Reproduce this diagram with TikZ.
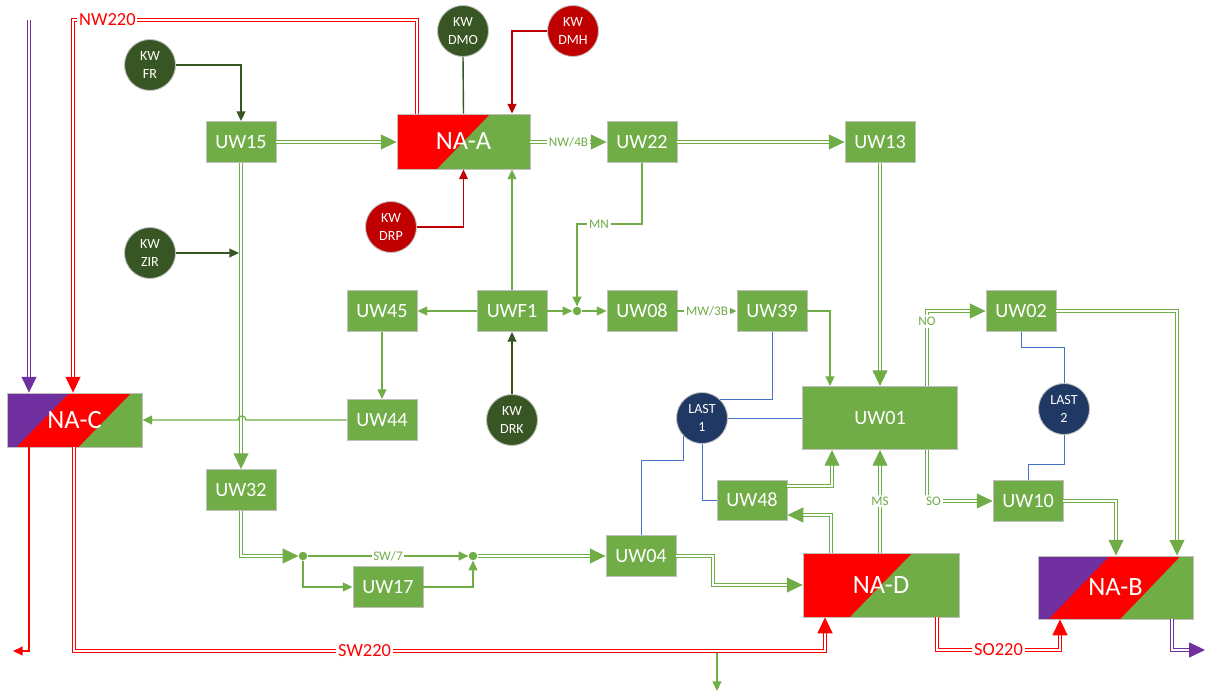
\documentclass[tikz,border=0pt]{standalone}
\usepackage{fontspec}
\setmainfont{Carlito}
\usetikzlibrary{arrows.meta,calc}

\definecolor{uwgreen}{HTML}{70AD47}
\definecolor{kwgreen}{HTML}{375623}
\definecolor{kwred}{HTML}{C00000}
\definecolor{lastblue}{HTML}{1F3864}
\definecolor{linkblue}{HTML}{4472C4}
\definecolor{hvpurple}{HTML}{7030A0}
\definecolor{hvred}{HTML}{FF0000}
\definecolor{boxline}{HTML}{BFBFBF}

\newcommand{\diagfill}[3]{%
  \fill[#1] (path picture bounding box.north west)
    -- ($(path picture bounding box.north west)!#2!(path picture bounding box.north east)$)
    -- ($(path picture bounding box.south west)!#3!(path picture bounding box.south east)$)
    -- (path picture bounding box.south west) -- cycle;}

\begin{document}
\begin{tikzpicture}[
    x=0.02cm, y=-0.02cm,
    uwbox/.style={draw=boxline, line width=0.5pt, fill=uwgreen, text=white, inner sep=0pt,
      minimum width=1.4cm, minimum height=0.82cm, font=\fontsize{11.5}{13}\selectfont},
    nabox/.style={uwbox, font=\fontsize{15}{17}\selectfont},
    twotone/.style={path picture={\diagfill{hvred}{0.7}{0.3}}},
    threetone/.style={path picture={\diagfill{hvred}{0.92}{0.53}\diagfill{hvpurple}{0.46}{0.07}}},
    kwdot/.style={circle, draw=boxline, line width=0.5pt, fill=#1, text=white, inner sep=0pt,
      minimum size=1.02cm, align=center, font=\fontsize{8}{9.8}\selectfont},
    knot/.style={circle, fill=uwgreen, inner sep=0pt, minimum size=0.17cm},
    feed/.style={draw=#1, line width=0.7pt, double=white, double distance=1.1pt,
      -{Triangle[length=9pt,width=8.5pt]}},
    feed/.default=uwgreen,
    flow/.style={draw=#1, line width=0.8pt, -{Triangle[length=5.5pt,width=5pt]}},
    flow/.default=uwgreen,
    tie/.style={draw=linkblue, line width=0.5pt},
    lbl/.style={fill=white, inner sep=1pt, text=#1, font=\fontsize{7.5}{8}\selectfont},
    lbl/.default=uwgreen,
    biglbl/.style={lbl=hvred, font=\fontsize{10.5}{11}\selectfont}
]
\useasboundingbox (0,0) rectangle (1206,692);

\node[kwdot=kwgreen] (kwfr) at (150,65) {KW\\FR};
\node[kwdot=kwgreen] (kwdmo) at (463,31) {KW\\DMO};
\node[kwdot=kwred] (kwdmh) at (573,31) {KW\\DMH};
\node[kwdot=kwred] (kwdrp) at (391,227) {KW\\DRP};
\node[kwdot=kwgreen] (kwzir) at (150,253) {KW\\ZIR};
\node[kwdot=kwgreen] (kwdrk) at (512,420) {KW\\DRK};
\node[kwdot=lastblue] (last1) at (702,418) {LAST\\1};
\node[kwdot=lastblue] (last2) at (1064,409) {LAST\\2};

\node[uwbox] (uw15) at (241,142) {UW15};
\node[uwbox] (uw22) at (642,142) {UW22};
\node[uwbox] (uw13) at (880,142) {UW13};
\node[uwbox] (uw45) at (382,311) {UW45};
\node[uwbox] (uwf1) at (512,311) {UWF1};
\node[knot] (j0) at (577,311) {};
\node[uwbox] (uw08) at (642,311) {UW08};
\node[uwbox] (uw39) at (772,311) {UW39};
\node[uwbox] (uw02) at (1021,311) {UW02};
\node[uwbox] (uw44) at (382,420) {UW44};
\node[uwbox, minimum width=3.1cm, minimum height=1.26cm] (uw01) at (880,418) {UW01};
\node[uwbox] (uw32) at (241,490) {UW32};
\node[uwbox, minimum height=0.8cm] (uw48) at (752,500) {UW48};
\node[uwbox] (uw10) at (1028,501) {UW10};
\node[knot] (j1) at (303,556) {};
\node[knot] (j2) at (473,556) {};
\node[uwbox] (uw04) at (641,556) {UW04};
\node[uwbox] (uw17) at (388,587) {UW17};

\node[nabox, twotone, minimum width=2.66cm, minimum height=1.1cm] (naa) at (463.5,141.5) {NA-A};
\node[nabox, threetone, minimum width=2.7cm, minimum height=1.08cm] (nac) at (74.5,420) {NA-C};
\node[nabox, twotone, minimum width=3.12cm, minimum height=1.28cm] (nad) at (881,585) {NA-D};
\node[nabox, threetone, minimum width=3.1cm, minimum height=1.26cm] (nab) at (1115.5,587.5) {NA-B};

\coordinate (hvin) at (29,20);
\coordinate (zirin) at (239,253);
\coordinate (rout) at (13,651);
\coordinate (swtap) at (717,651);
\coordinate (gout) at (717,691);
\coordinate (pout) at (1205,650);

\draw[flow=kwgreen] (kwfr.east) -| (uw15.north);
\draw[kwgreen, line width=0.8pt] (kwdmo.south) -- (naa.north);
\draw[flow=kwred] (kwdmh.west) -| (512,0 |- naa.north);
\draw[flow=kwred] (kwdrp.east) -| (naa.south);
\draw[flow=kwgreen] (kwzir.east) -- (zirin);
\draw[flow=kwgreen] (kwdrk.north) -- (uwf1.south);

\draw[feed] (uw15.east) -- (naa.west |- uw15.east);
\draw[feed] (naa.east |- uw22.west) -- node[lbl] {NW/4B} (uw22.west);
\draw[feed] (uw22.east) -- (uw13.west);
\draw[feed] (uw15.south) -- (uw32.north);
\draw[flow] (uw22.south) -- ++(0,61) -| node[lbl, pos=0.33] {MN} (j0.north);
\draw[flow] (uwf1.north) -- (naa.south -| uwf1.north);
\draw[flow] (uwf1.west) -- (uw45.east);
\draw[flow] (uwf1.east) -- (j0.west);
\draw[flow] (j0.east) -- (uw08.west);
\draw[flow] (uw08.east) -- node[lbl] {MW/3B} (uw39.west);
\draw[flow] (uw39.east) -| (830,0 |- uw01.north);
\draw[feed] (uw13.south) -- (uw01.north);
\draw[feed] (927,0 |- uw01.north) |- node[lbl, pos=0.43] {NO} (uw02.west);
\draw[feed] (927,0 |- uw01.south) |- node[lbl, pos=0.55] {SO} (uw10.west);
\draw[feed] (uw02.east) -| (1177,0 |- nab.north);
\draw[feed] (uw10.east) -| (1116,0 |- nab.north);
\draw[flow] (uw45.south) -- (uw44.north);
\draw[flow] (uw44.west) -- (246,420) arc[start angle=0, end angle=180, radius=0.08cm] -- (nac.east);
\draw[feed] (uw32.south) |- (j1.west);
\draw[flow] (j1.east) -- node[lbl] {SW/7} (j2.west);
\draw[flow] (j1.south) |- (uw17.west);
\draw[flow] (uw17.east) -| (j2.south);
\draw[feed] (j2.east) -- (uw04.west);
\draw[feed] (uw04.east) -- (713,0 |- uw04.east) |- (nad.west);
\draw[feed] (uw48.east |- 0,486) -| (832,0 |- uw01.south);
\draw[feed] (831,0 |- nad.north) |- (uw48.east |- 0,515);
\draw[feed] (880,0 |- nad.north) -- node[lbl] {MS} (880,0 |- uw01.south);

\draw[tie] (uw39.south) |- (last1.45);
\draw[tie] (last1.east) -- (uw01.west);
\draw[tie] (last1.224) -- (last1.224 |- 0,460) -| (uw04.north);
\draw[tie] (last1.south) |- (uw48.west);
\draw[tie] (uw02.south) -- ++(0,16) -| (last2.north);
\draw[tie] (last2.south) -- ++(0,30) -| (uw10.north);

\draw[feed=hvpurple] (hvin) -- (hvin |- nac.north);
\draw[feed=hvred] (417,0 |- naa.north) -- (417,20) -- node[biglbl, pos=0.9] {NW220} (73,20) -- (73,0 |- nac.north);
\draw[flow] (swtap) -- (gout);
\draw[flow=hvred] (29,0 |- nac.south) |- (rout);
\draw[feed=hvred] (74,0 |- nac.south) -- (74,651) -- node[biglbl, pos=0.387] {SW220} (825,651) -- (825,0 |- nad.south);
\draw[feed=hvred] (937,0 |- nad.south) -- (937,650) -- node[biglbl] {SO220} (1060,650) -- (1060,0 |- nab.south);
\draw[feed=hvpurple] (1172,0 |- nab.south) |- (pout);
\end{tikzpicture}
\end{document}
